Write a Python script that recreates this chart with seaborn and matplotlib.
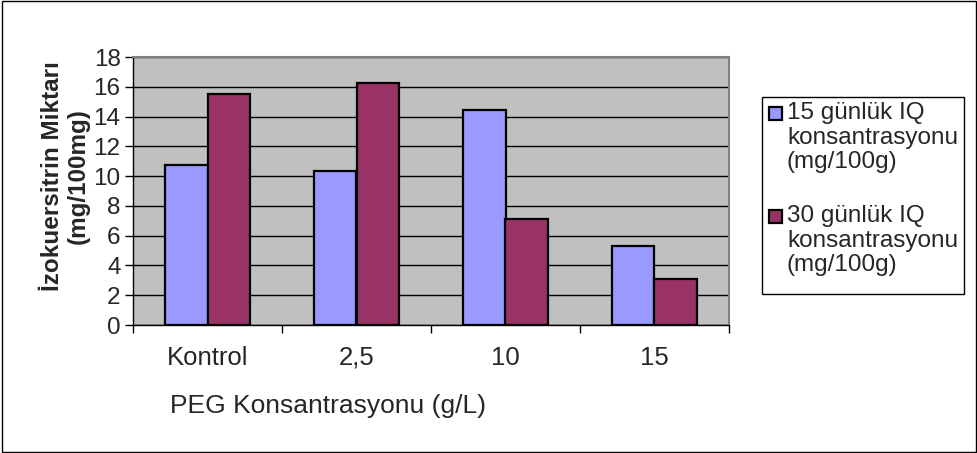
import matplotlib
matplotlib.use("Agg")
import matplotlib.pyplot as plt
import seaborn as sns
import pandas as pd
from matplotlib.patches import Rectangle

categories = ["Kontrol", "2,5", "10", "15"]
day15 = [10.74, 10.36, 14.42, 5.29]
day30 = [15.49, 16.23, 7.13, 3.07]
series_names = ["15 günlük IQ\nkonsantrasyonu\n(mg/100g)",
                "30 günlük IQ\nkonsantrasyonu\n(mg/100g)"]
colors = ["#9999FF", "#993366"]
y_ticks = [0, 2, 4, 6, 8, 10, 12, 14, 16, 18]

df = pd.DataFrame({
    "kategori": categories * 2,
    "deger": day15 + day30,
    "seri": [series_names[0]] * 4 + [series_names[1]] * 4,
})

sns.set_style("white")
plt.rcParams["font.family"] = ["Liberation Sans", "DejaVu Sans"]

W, H = 978, 453
fig = plt.figure(figsize=(W / 100, H / 100), dpi=100)
ax = fig.add_axes([133 / W, 1 - 325 / H, 596 / W, 268 / H])
ax.set_facecolor("#C0C0C0")

sns.barplot(data=df, x="kategori", y="deger", hue="seri", order=categories,
            hue_order=series_names, palette=colors, width=0.57,
            edgecolor="black", linewidth=1.6, saturation=1, ax=ax,
            legend=False, zorder=3)

ax.set_ylim(0, 18)
ax.set_xlim(-0.5, 3.5)
ax.set_yticks(y_ticks)
ax.yaxis.grid(True, color="black", linewidth=1)
ax.set_axisbelow(True)
for g in ax.get_ygridlines():
    g.set_zorder(1)

ax.tick_params(axis="y", which="major", direction="out", length=6, width=1,
               color="black", labelsize=17.5, pad=3, left=True)
ax.set_xticks(range(len(categories)))
ax.set_xticklabels(categories)
ax.tick_params(axis="x", which="major", length=0, labelsize=18.5, pad=15)
ax.set_xticks([-0.5, 0.5, 1.5, 2.5, 3.5], minor=True)
ax.tick_params(axis="x", which="minor", direction="out", length=6, width=1,
               color="black", bottom=True)

for side in ["top", "right"]:
    ax.spines[side].set_color("#808080")
    ax.spines[side].set_linewidth(1.5)
for side in ["left", "bottom"]:
    ax.spines[side].set_color("black")
    ax.spines[side].set_linewidth(1)

ax.set_ylabel("İzokuersitrin Miktarı\n(mg/100mg)", fontsize=17.5,
              fontweight="bold", linespacing=1.18)
ax.yaxis.set_label_coords(-0.072, 0.556)
ax.set_xlabel("PEG Konsantrasyonu (g/L)", fontsize=19)
ax.xaxis.set_label_coords(0.327, -0.258)
ax.xaxis.label.set_verticalalignment("top")

# legend box drawn by hand so each swatch sits on the first text line
fig.patches.append(Rectangle((762 / W, 1 - 294 / H), 202 / W, 197 / H,
                             transform=fig.transFigure, facecolor="white",
                             edgecolor="black", linewidth=1))
entry_tops = [102, 205]
for name, col, top in zip(series_names, colors, entry_tops):
    fig.patches.append(Rectangle((769 / W, 1 - (top + 18) / H), 13 / W, 13 / H,
                                 transform=fig.transFigure, facecolor=col,
                                 edgecolor="black", linewidth=1.6))
    fig.text(787 / W, 1 - top / H, name, fontsize=17.5, va="top", ha="left",
             linespacing=1.15)

fig.patches.append(Rectangle((0.002, 0.003), 0.996, 0.994,
                             transform=fig.transFigure, fill=False,
                             edgecolor="black", linewidth=1))

fig.savefig("out.png", dpi=100, facecolor="white")
